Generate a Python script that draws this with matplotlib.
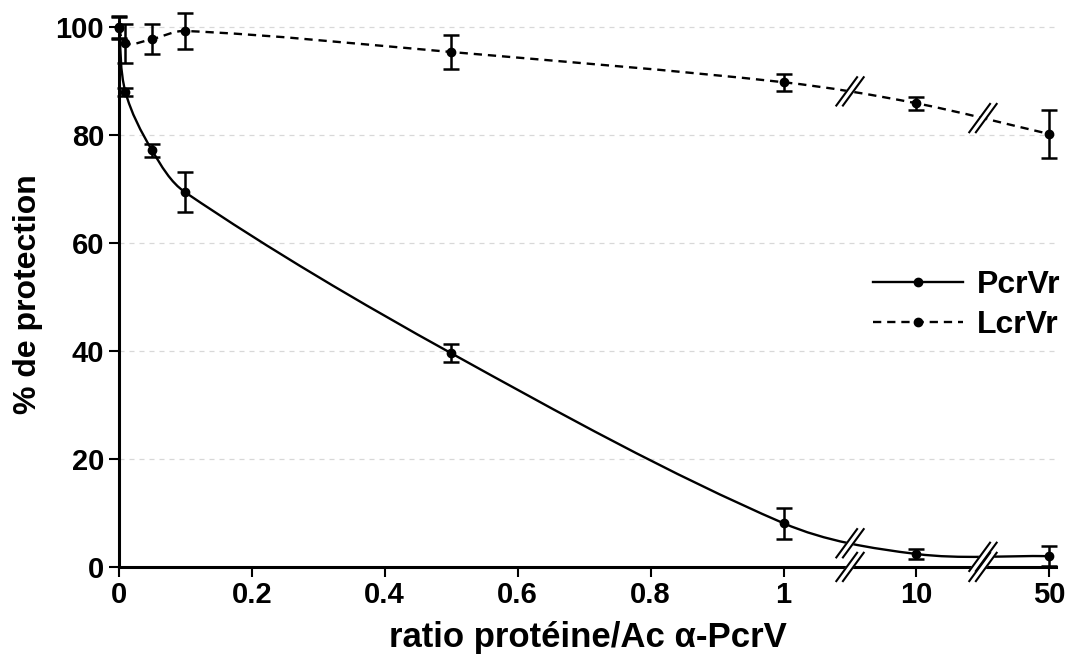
import numpy as np
import matplotlib
matplotlib.use("Agg")
import matplotlib.pyplot as plt
from matplotlib.path import Path
from matplotlib.patches import PathPatch
from matplotlib.lines import Line2D

plt.rcParams['font.family'] = ['Liberation Sans', 'DejaVu Sans']
plt.rcParams['font.weight'] = 'bold'

# ---- data ----
ratios = [0, 0.01, 0.05, 0.1, 0.5, 1, 10, 50]
pcrv = [100, 88.0, 77.2, 69.4, 39.6, 8.1, 2.4, 2.0]
pcrv_err = [2.0, 0.8, 1.2, 3.7, 1.7, 2.9, 1.0, 1.8]
lcrv = [99.8, 97.0, 97.8, 99.3, 95.4, 89.8, 85.9, 80.2]
lcrv_err = [2.0, 3.6, 2.8, 3.4, 3.1, 1.6, 1.2, 4.5]

tick_values = [0, 0.2, 0.4, 0.6, 0.8, 1, 10, 50]
tick_labels = ['0', '0.2', '0.4', '0.6', '0.8', '1', '10', '50']
y_ticks = [0, 20, 40, 60, 80, 100]

# broken axis: 0..1 linear, then 10 and 50 placed at equal steps
def xpos(v):
    extra = {10: 1.2, 50: 1.4}
    return extra.get(v, v)

breaks_x = [1.1, 1.3]

fig = plt.figure(figsize=(10.7, 6.6), dpi=100)
ax = fig.add_axes([0.111, 0.141, 0.876, 0.826])
ax.set_xlim(0, 1.41)
ax.set_ylim(0, 101)


def smooth_path(xs, ys):
    # smoothed line (Excel style), control points worked out in pixels
    pts = ax.transData.transform(np.column_stack([xs, ys]))
    n = len(pts)
    verts = [pts[0]]
    codes = [Path.MOVETO]
    for i in range(n - 1):
        p0 = pts[max(i - 1, 0)]
        p1 = pts[i]
        p2 = pts[i + 1]
        p3 = pts[min(i + 2, n - 1)]
        d = np.linalg.norm(p2 - p1) / 3.0
        t1 = p2 - p0
        t2 = p3 - p1
        c1 = p1 + t1 / np.linalg.norm(t1) * d
        c2 = p2 - t2 / np.linalg.norm(t2) * d
        verts += [c1, c2, p2]
        codes += [Path.CURVE4] * 3
    verts = ax.transData.inverted().transform(np.array(verts))
    return Path(verts, codes)


def y_on_curve(xs, ys, xb):
    path = smooth_path(xs, ys)
    v = path.vertices
    for i in range(len(xs) - 1):
        if xs[i] <= xb <= xs[i + 1]:
            p1, c1, c2, p2 = v[3 * i], v[3 * i + 1], v[3 * i + 2], v[3 * i + 3]
            return (p1[1] + 3 * c1[1] + 3 * c2[1] + p2[1]) / 8.0
    return None


def draw_break(x, y):
    # "//" mark: white gap and two slanted strokes, sized in pixels
    cx, cy = ax.transData.transform((x, y))
    inv = ax.transData.inverted()
    for dx, col, lw, z in [(0, 'white', 5.0, 4), (-3.3, 'black', 1.5, 5),
                           (3.3, 'black', 1.5, 5)]:
        a = inv.transform((cx + dx - 11, cy - 15))
        b = inv.transform((cx + dx + 11, cy + 15))
        ax.add_line(Line2D([a[0], b[0]], [a[1], b[1]], color=col, lw=lw,
                           clip_on=False, zorder=z, solid_capstyle='butt'))


xp = [xpos(v) for v in ratios]

for yt in y_ticks[1:]:
    ax.axhline(yt, color='#d8d8d8', lw=0.9, ls=(0, (4, 4)), zorder=0)

ax.add_patch(PathPatch(smooth_path(xp, pcrv), fill=False, edgecolor='black',
                       lw=1.7, zorder=2))
ax.add_patch(PathPatch(smooth_path(xp, lcrv), fill=False, edgecolor='black',
                       lw=1.7, ls=(0, (3.5, 2.5)), zorder=2))

for ys, err in [(pcrv, pcrv_err), (lcrv, lcrv_err)]:
    ax.errorbar(xp, ys, yerr=err, fmt='o', color='black', ms=6,
                capsize=6, capthick=1.8, elinewidth=1.8, clip_on=False,
                zorder=3)

for xb in breaks_x:
    draw_break(xb, 0)
    draw_break(xb, y_on_curve(xp, pcrv, xb))
    draw_break(xb, y_on_curve(xp, lcrv, xb))

ax.set_xticks([xpos(v) for v in tick_values])
ax.set_xticklabels(tick_labels)
ax.set_yticks(y_ticks)
ax.tick_params(axis='both', labelsize=21, width=1.5, length=7)
ax.tick_params(axis='x', pad=3)
for lab in ax.get_xticklabels() + ax.get_yticklabels():
    lab.set_fontweight('bold')

for s in ['top', 'right']:
    ax.spines[s].set_visible(False)
for s in ['left', 'bottom']:
    ax.spines[s].set_linewidth(2.2)

ax.set_xlabel('ratio protéine/Ac α-PcrV', fontsize=25, fontweight='bold',
              labelpad=9)
ax.set_ylabel('% de protection', fontsize=23, fontweight='bold', labelpad=9)

h1 = Line2D([], [], color='black', lw=1.7, marker='o', ms=6)
h2 = Line2D([], [], color='black', lw=1.7, ls=(0, (3.5, 2.5)), marker='o', ms=6)
leg = ax.legend([h1, h2], ['PcrVr', 'LcrVr'], loc='center left',
                bbox_to_anchor=(0.805, 0.48), frameon=False, numpoints=1,
                handlelength=2.8, handletextpad=0.45, labelspacing=0.3,
                borderpad=0, borderaxespad=0,
                prop={'size': 23, 'weight': 'bold'})

fig.savefig('out.png', dpi=100)
